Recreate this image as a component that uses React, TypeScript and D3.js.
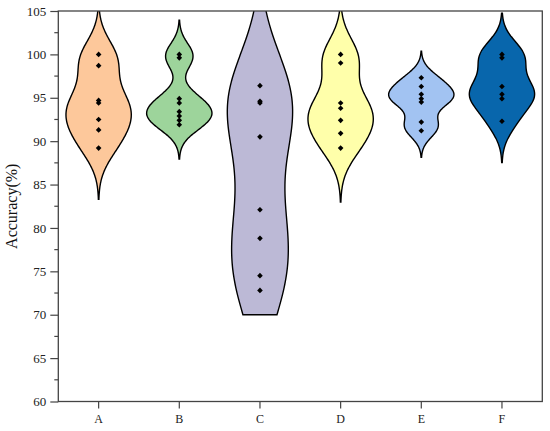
import React, { useEffect, useRef } from 'react';
import * as d3 from 'd3';

// categories and the raw points
const categories = ['A', 'B', 'C', 'D', 'E', 'F'];
const groupA = [100.0, 98.7, 94.7, 94.4, 92.5, 91.3, 89.2];
const groupB = [100.0, 99.6, 94.9, 94.4, 93.4, 92.9, 92.4, 91.9];
const groupC = [96.4, 94.6, 94.4, 90.5, 82.1, 78.8, 74.5, 72.8];
const groupD = [100.0, 99.0, 94.4, 93.8, 92.4, 90.9, 89.2];
const groupE = [97.3, 96.3, 95.4, 94.9, 94.5, 92.2, 91.2];
const groupF = [100.0, 99.6, 96.3, 95.4, 94.9, 92.3];
const groups = [groupA, groupB, groupC, groupD, groupE, groupF];
const fills = ['#fdc89b', '#9dd49b', '#bcb9d6', '#ffffaa', '#a2c3f2', '#0866ac'];

const yTicks = [60, 65, 70, 75, 80, 85, 90, 95, 100, 105];
const yMinorTicks = [62.5, 67.5, 72.5, 77.5, 82.5, 87.5, 92.5, 97.5, 102.5];
const yDomain = [60, 105];
const densityFloor = 70;

const W = 550;
const H = 431;
const left = 58.3;
const right = 542.3;
const top = 11;
const bottom = 401.5;
const font = '"Liberation Serif", "Times New Roman", serif';

// gaussian kde with silverman bandwidth
function kde(values: number[]) {
  const n = values.length;
  const sd = d3.deviation(values) || 1;
  const sorted = values.slice().sort(d3.ascending);
  const iqr = (d3.quantile(sorted, 0.75)! - d3.quantile(sorted, 0.25)!) / 1.34;
  const bw = 0.9 * Math.min(sd, iqr > 0 ? iqr : sd) * Math.pow(n, -0.2);
  const lo = Math.max(densityFloor, d3.min(values)! - 2.7 * bw);
  const hi = d3.max(values)! + 2.7 * bw;
  const steps = 120;
  const pts: { v: number; d: number }[] = [];
  for (let i = 0; i <= steps; i++) {
    const v = lo + ((hi - lo) * i) / steps;
    const d = d3.mean(values, (x) => Math.exp(-0.5 * ((v - x) / bw) ** 2))!;
    pts.push({ v, d });
  }
  return pts;
}

const App: React.FC = () => {
  const svgRef = useRef<SVGSVGElement | null>(null);

  useEffect(() => {
    const svg = d3.select(svgRef.current);
    svg.selectAll('*').remove();

    const x = d3.scaleBand().domain(categories).range([left, right]).padding(0);
    const y = d3.scaleLinear().domain(yDomain).range([bottom, top]);
    const halfMax = x.bandwidth() * 0.405;

    svg.append('defs').append('clipPath').attr('id', 'plotClip')
      .append('rect').attr('x', left).attr('y', top).attr('width', right - left).attr('height', bottom - top);

    const plot = svg.append('g').attr('clip-path', 'url(#plotClip)');

    categories.forEach((c, i) => {
      const cx = x(c)! + x.bandwidth() / 2;
      const dens = kde(groups[i]);
      const w = d3.scaleLinear().domain([0, d3.max(dens, (d) => d.d)!]).range([0, halfMax]);
      const area = d3.area<{ v: number; d: number }>()
        .y((d) => y(d.v))
        .x0((d) => cx - w(d.d))
        .x1((d) => cx + w(d.d))
        .curve(d3.curveBasis);
      plot.append('path')
        .attr('d', area(dens))
        .attr('fill', fills[i])
        .attr('stroke', '#000')
        .attr('stroke-width', 1.4);

      plot.selectAll(null)
        .data(groups[i])
        .enter()
        .append('path')
        .attr('d', d3.symbol().type(d3.symbolDiamond2).size(20)())
        .attr('transform', (d) => `translate(${cx},${y(d)})`)
        .attr('fill', '#000');
    });

    const axisColor = '#444';

    // left axis
    const gy = svg.append('g').attr('transform', `translate(${left},0)`)
      .call(d3.axisLeft(y).tickValues(yTicks).tickSize(8).tickSizeOuter(0).tickPadding(4));
    gy.selectAll('text').attr('font-family', font).attr('font-size', 13).attr('fill', '#222');
    gy.selectAll('line').attr('stroke', axisColor).attr('stroke-width', 1.2);
    gy.select('.domain').remove();
    svg.append('g').selectAll('line')
      .data(yMinorTicks)
      .enter()
      .append('line')
      .attr('x1', left - 4)
      .attr('x2', left)
      .attr('y1', (d) => y(d))
      .attr('y2', (d) => y(d))
      .attr('stroke', axisColor)
      .attr('stroke-width', 1.2);

    // bottom axis
    const gx = svg.append('g').attr('transform', `translate(0,${bottom})`)
      .call(d3.axisBottom(x).tickSize(7).tickSizeOuter(0).tickPadding(6));
    gx.selectAll('text').attr('font-family', font).attr('font-size', 12).attr('fill', '#222');
    gx.selectAll('line').attr('stroke', axisColor).attr('stroke-width', 1.2);
    gx.select('.domain').remove();

    // frame
    svg.append('rect')
      .attr('x', left)
      .attr('y', top)
      .attr('width', right - left)
      .attr('height', bottom - top)
      .attr('fill', 'none')
      .attr('stroke', axisColor)
      .attr('stroke-width', 1.3);

    svg.append('text')
      .attr('transform', `translate(17,${(top + bottom) / 2}) rotate(-90)`)
      .attr('text-anchor', 'middle')
      .attr('font-family', font)
      .attr('font-size', 16)
      .attr('fill', '#111')
      .text('Accuracy(%)');
  }, []);

  return (
    <svg
      ref={svgRef}
      width={W}
      height={H}
      style={{ position: 'absolute', left: 0, top: 0, background: '#fff' }}
    ></svg>
  );
};

export default App;
